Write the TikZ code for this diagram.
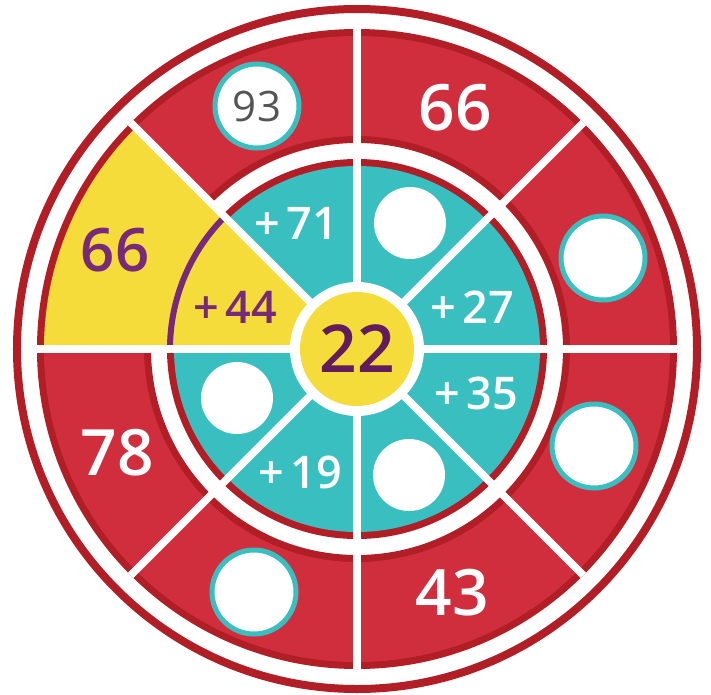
\documentclass[tikz,border=0pt]{standalone}
\usepackage{fontspec}
\IfFontExistsTF{Open Sans SemiBold}
  {\setmainfont{Open Sans}[BoldFont={Open Sans SemiBold}]}
  {\IfFontExistsTF{Open Sans Semibold}
    {\setmainfont{Open Sans}[BoldFont={Open Sans Semibold}]}
    {\setmainfont{Open Sans}}}
\definecolor{darkred}{HTML}{B11E26}
\definecolor{redc}{HTML}{D02E3D}
\definecolor{tealc}{HTML}{3ABFC1}
\definecolor{yellowc}{HTML}{F6DC3A}
\definecolor{purplec}{HTML}{77297A}
\definecolor{darkpurple}{HTML}{621B5C}
\definecolor{grayt}{HTML}{555555}
\tikzset{
  outcirc/.style={circle, fill=white, draw=tealc, line width=5pt, minimum size=84pt, inner sep=0pt},
  incirc/.style={circle, fill=white, minimum size=72pt, inner sep=0pt},
  bignum/.style={text=white, font=\bfseries\fontsize{64}{64}\selectfont, inner sep=0pt},
  addnum/.style={text=white, font=\bfseries\fontsize{45}{45}\selectfont, inner sep=0pt},
  divider/.style={white, line width=7.5pt}
}
\begin{document}
\begin{tikzpicture}[x=1pt,y=1pt]
\useasboundingbox (-357,-345) rectangle (354,349);
% outer thin ring
\draw[darkred, line width=8pt] (0,0) circle[radius=340pt];
% outer band
\fill[darkred, even odd rule] (0,0) circle[radius=320pt] (0,0) circle[radius=206pt];
\fill[redc, even odd rule] (0,0) circle[radius=313pt] (0,0) circle[radius=213pt];
% inner band
\fill[darkred] (0,0) circle[radius=190pt];
\fill[tealc] (0,0) circle[radius=183pt];
% yellow sector
\fill[yellowc] (135:60pt) arc[start angle=135, end angle=180, radius=60pt]
  -- (180:313pt) arc[start angle=180, end angle=135, radius=313pt] -- cycle;
% purple arc
\draw[purplec, line width=6pt] (135:187pt) arc[start angle=135, end angle=180, radius=187pt];
% dividers
\foreach \a in {0,45,...,315} \draw[divider] (0,0) -- (\a:320pt);
% centre
\fill[white] (0,0) circle[radius=67pt];
\node[circle, fill=yellowc, minimum size=114pt, inner sep=0pt, text=darkpurple,
  font=\bfseries\fontsize{66}{66}\selectfont] (centre) at (0,0) {22};
% outer band contents
\node[outcirc, text=grayt, font=\fontsize{42}{42}\selectfont] (o93) at (-100,243) {93};
\node[bignum] (o66) at (98,241) {66};
\node[outcirc] (oc1) at (246,91) {};
\node[outcirc] (oc2) at (237,-97) {};
\node[bignum] (o43) at (95.5,-243.5) {43};
\node[outcirc] (oc3) at (-103,-243) {};
\node[bignum] (o78) at (-239.5,-103.5) {78};
\node[bignum, text=purplec, font=\bfseries\fontsize{60}{60}\selectfont] (y66) at (-242,99) {66};
% inner band contents
\node[addnum] (i71) at (-61,126) {+\hspace{0.15em}71};
\node[incirc] (ic1) at (53,126) {};
\node[addnum] (i27) at (115,42) {+\hspace{0.15em}27};
\node[addnum] (i35) at (119,-44) {+\hspace{0.15em}35};
\node[incirc] (ic2) at (52,-126) {};
\node[addnum] (i19) at (-57,-123) {+\hspace{0.15em}19};
\node[incirc] (ic3) at (-120,-49) {};
\node[addnum, text=purplec] (i44) at (-122,42) {+\hspace{0.15em}44};
\end{tikzpicture}
\end{document}
